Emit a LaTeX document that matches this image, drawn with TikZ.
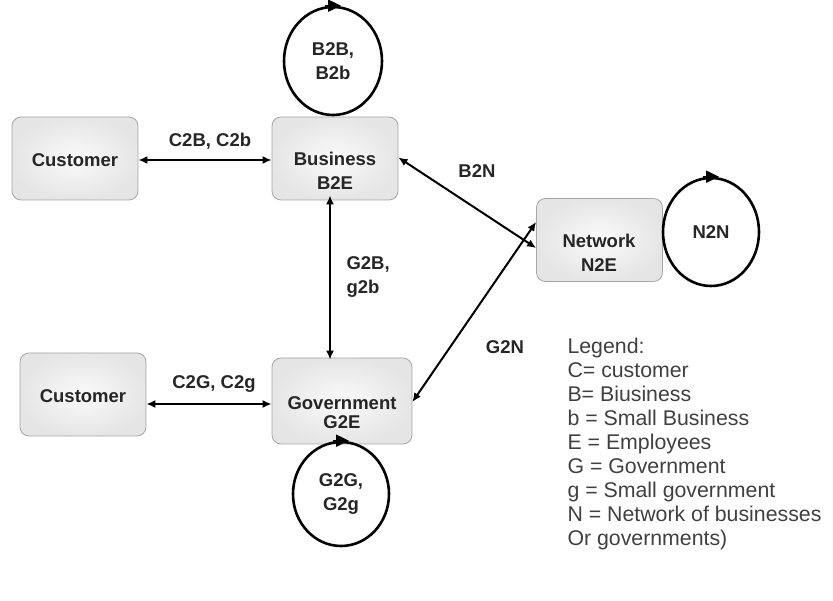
\documentclass[tikz,border=0pt]{standalone}
\usepackage{fontspec}
\setmainfont{Liberation Sans}
\usetikzlibrary{arrows.meta,shapes.geometric}
\begin{document}
\begin{tikzpicture}[x=1pt,y=-1pt,
  box/.style={draw=gray!70, line width=0.8pt, rounded corners=9pt, inner color=gray!4, outer color=gray!20,
    minimum width=126pt, minimum height=83pt},
  btext/.style={font=\bfseries\fontsize{18.5}{24}\selectfont, align=center, text=black!85, inner sep=0pt},
  loopc/.style={draw=black, line width=2.6pt, ellipse, minimum width=98pt, minimum height=108pt,
    font=\bfseries\fontsize{18.5}{24}\selectfont, align=center, text=black!85},
  conn/.style={line width=2pt, {Latex[length=9pt,width=8pt]}-{Latex[length=9pt,width=8pt]}},
  tip/.style={line width=2pt, -{Triangle[length=13pt,width=12pt]}},
  lab/.style={font=\bfseries\fontsize{18.5}{24}\selectfont, align=left, text=black!85},
  leg/.style={font=\fontsize{21.3}{24}\selectfont, align=left, text=black!75, anchor=north west}]
\useasboundingbox (0,0) rectangle (833,601);
\node[box] (cust1) at (75,158.5) {};
\node[btext] (cust1t) at (75,160) {Customer};
\node[box] (bus) at (335,158.5) {};
\node[btext] (bust) at (335,171) {Business\\B2E};
\node[box] (net) at (599.5,240) {};
\node[btext] (nett) at (599,253) {Network\\N2E};
\node[box, minimum width=140pt, minimum height=86pt] (gov) at (342,401) {};
\node[btext] (govt) at (342,413) {Government\\[-5pt]G2E};
\node[box] (cust2) at (83,394.5) {};
\node[btext] (cust2t) at (83,396) {Customer};
\node[loopc] (bb) at (333,61) {B2B,\\B2b};
\node[loopc, minimum width=96pt] (nn) at (711,232) {N2N};
\node[loopc, minimum width=96pt, minimum height=104pt] (gg) at (341,494) {G2G,\\G2g};
\draw[tip] ([xshift=-8pt]bb.north) -- ([xshift=8pt]bb.north);
\draw[tip] ([xshift=-8pt]nn.north) -- ([xshift=8pt]nn.north);
\draw[tip] ([xshift=-8pt]gg.north) -- ([xshift=8pt]gg.north);
\coordinate (c1e) at (140,160);
\draw[conn] (cust1.east |- c1e) -- (bus.west |- c1e);
\node[lab] (l1) at (210,141) {C2B, C2b};
\draw[conn] ([yshift=1pt]bus.east) -- ([yshift=-8pt]net.west);
\node[lab] (l2) at (477,171) {B2N};
\draw[conn] ([xshift=-5pt,yshift=5pt]bus.south) -- ([xshift=-12pt,yshift=-2pt]gov.north);
\node[lab, anchor=west] (l3) at (343,277) {G2B,\\g2b};
\coordinate (c2e) at (140,404);
\draw[conn] (cust2.east |- c2e) -- (gov.west |- c2e);
\node[lab] (l4) at (214,384) {C2G, C2g};
\draw[conn] ([yshift=-1pt]gov.east) -- ([yshift=18pt]net.west);
\node[lab] (l5) at (505,347) {G2N};
\node[leg] (legend) at (564,335) {Legend:\\C= customer\\B= Biusiness\\b = Small Business\\E = Employees\\G = Government\\g = Small government\\N = Network of businesses\\Or governments)};
\end{tikzpicture}
\end{document}
